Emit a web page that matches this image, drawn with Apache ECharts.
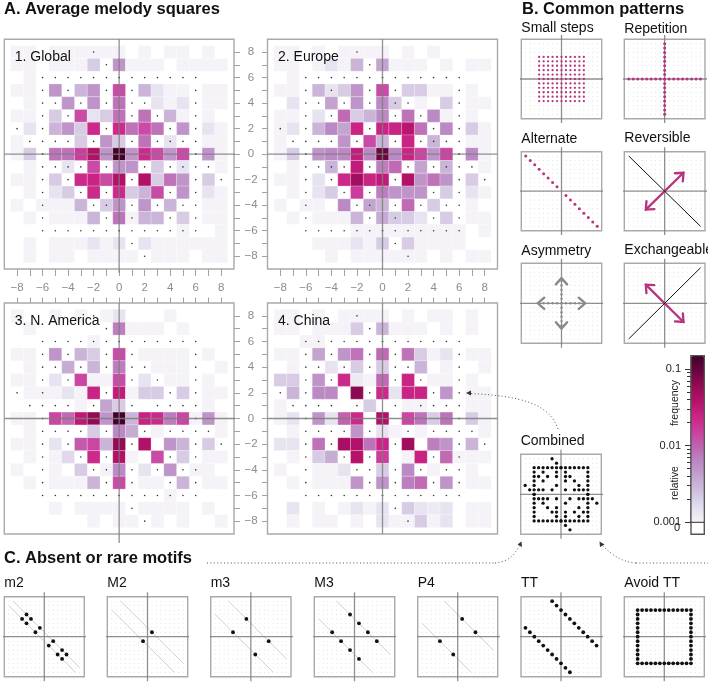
<!DOCTYPE html>
<html>
<head>
<meta charset="utf-8">
<style>html,body{margin:0;padding:0;background:#fff}#c{width:708px;height:682px}</style>
<script src="https://cdn.jsdelivr.net/npm/echarts@6/dist/echarts.min.js"></script>
</head>
<body>
<div id="c"></div>
<script>
// Relative frequency in thousandths; rows run from y=8 down to y=-8, columns x=-8..8.
const globalRows = [
[1,1,0,1,1,1,1,1,1,0,1,0,1,1,0,1,0],
[1,1,0,1,1,1,2.1,0,5,1,1,1,0,1,1,1,1],
[0,1,0,0,0,0,0,0,0,0,0,0,0,0,0,0,0],
[1,1,0,5,0,3,5,0,13,0,3,1.4,1,1,0,1,1],
[0,1,0,0,5,0,5,0,8,0,0,1.4,1,1.4,0,1,1],
[1,1,0,2.1,0,13,1.4,2.1,8,0,8,0,3,1,0,1,0],
[0,1.4,0,3,5,2.1,22,0,22,8,13,8,0,5,0,1.4,1],
[1,0,0,0,0,2.1,0,5,2.1,0,8,0,1.4,0,0,1,1],
[1,2.1,0,8,8,16,40,5,140,5,22,13,5,13,0,5,1],
[0,1,0,0,1.4,0,13,0,5,5,0,2.1,0,1.4,0,0,1],
[1,1,0,2.1,0,22,25,13,40,0,40,2.1,8,5,0,2.1,0],
[0,1,0,1.4,2.1,0,22,0,22,2.1,3,13,0,5,0,1.4,1],
[1,0,1,1,1,3,0,2.1,5,0,5,0,3,0,0,1,1],
[0,1,0,1,1,1,3,0,8,1,3,3,0,2.1,0,1,1],
[0,0,0,0,0,0,0,0,0,0,0,0,0,1,0,0,1],
[0,1,0,1,1,1,1.4,1,1.4,0,1.4,1,1,1,1,1,1],
[0,1,0,1,1,0,1,1,1,1,0,1,1,1,0,1,1]];
const europeRows = [
[1,1,0,1,0,1,1,1,1,0,1,0,1,0,0,0,0],
[1,1,0,1,1.4,1,3,0,4,1,1,1,0,1,0,1,1],
[0,1,0,0,0,0,0,0,0,0,0,0,0,0,0,0,0],
[1,1,0,3,1.4,2.1,5,0,13,0,2.1,2.1,1,1,0,1,0],
[0,1.4,0,0,4,0,5,0,6,2.1,0,1,0,2.1,0,1,1],
[1,1,0,1.4,0,9,2.1,3,6,0,8,0,6,1,0,1,0],
[1,1.4,0,3,6,4,25,0,25,25,35,8,0,6,0,2.1,1],
[1,0,0,0,0,5,0,13,3,0,25,0,3,0,0,1,1],
[1,2.1,0,5,6,6,28,6,90,6,25,14,5,14,0,6,1],
[0,1,0,0,3,0,30,0,7,9,0,4,0,3,0,0,1],
[1,1,0,1.4,0,22,48,25,30,0,40,5,8,5,0,2.1,0],
[0,1,0,1.4,2.1,0,16,0,7,5,5,5,0,2.1,0,1.4,1],
[1,0,1,1,0,6,0,4,3,0,9,0,2.1,0,0,1,0],
[0,1,0,1,1,1,3,0,3.5,2.1,2.1,1.4,0,2.1,0,1,1],
[0,0,0,0,0,0,1,1,1,1,1,1,1,1,1,0,1],
[0,0,0,1,1,1,1.4,1,2.1,0,2.1,1,1,1,1,0,0],
[0,0,0,0,1,0,1,1,1,1,1,1,0,1,0,1,1]];
const americaRows = [
[1,0,0,1,0,1,0,1,1.4,0,0,0,1,0,0,0,0],
[0,1,0,0,0,0,0,0,7,1,1,1,0,1,0,0,0],
[0,0,0,0,0,0,1,0,0,0,0,0,0,0,0,0,0],
[1,1,0,5,0,3,2.1,0,13,0,1,1,1,1,0,1,0],
[0,1,0,0,3.5,0,3,0,7,0,0,1,1,1,0,0,1],
[1,1,0,1.4,0,14,1,1,13,0,1.4,0,1,1,0,1,0],
[0,1,1,1,1.4,1,25,0,30,1,2.1,2.1,0,2.1,0,1,1],
[0,0,0,0,0,1,0,4,2.1,0,0,0,0,0,0,1,0],
[1,1,0,14,9,32,60,5,140,3,26,22,7,14,1,5,1],
[0,1,0,0,0,0,2.1,0,6,3.5,0,1,0,0,0,0,1],
[1,1,0,1.4,0,11,14,3,60,0,40,0,5,3,0,2.1,0],
[0,1,0,1,1.7,0,22,0,40,1,0,13,0,2.1,0,1,1],
[1,0,0,1,0,2.1,0,1,6,0,1.4,0,5,0,1,1,0],
[0,1,0,1,1,1,3,0,13,0,1,1,0,3,0,1,1],
[0,0,0,0,0,0,0,0,0,0,0,0,1,0,0,0,0],
[0,0,0,1,0,1,1,1,1,0,1,1,1,1,0,1,0],
[0,0,0,0,0,0,1,0,1,1,0,1,0,1,0,0,1]];
const chinaRows = [
[1,1,0,1,0,1,1,1,1,0,1,0,1,1,0,1,0],
[1,1,0,1,1,1,2.1,0,3,1,1,1,0,1,0,1,0],
[0,0,1,1,0,0,0,0,0,0,0,0,0,0,0,0,0],
[1,1,0,4,0,5,8,0,9,0,8,2.1,1,1.4,0,1,1],
[0,1,0,0,1.4,0,2.1,0,2.1,0,0,3,0,1,0,0,1],
[2.1,2.1,0,5,0,22,1.2,1,9,0,25,0,1,1,0,1,0],
[0,3,0,6,6,0,65,0,22,1.4,25,25,0,5,0,1,1],
[1,0,0,0,0,0,0,2.1,0,0,1,1,0,0,0,1,1],
[1,1.4,0,5,1.4,10,22,0,40,0,14,8,2.1,8,0,2.1,1],
[0,1,0,0,0,0,5,0,1.4,1,0,1,0,0,0,0,1],
[1.4,1.4,0,8,0,45,40,8,24,0,50,0,7,5,0,3,0],
[0,1,0,2.1,3.5,0,38,0,16,0,1,26,0,9,1,1,1],
[1,0,0,1,1,1.4,0,0,2.1,0,6,0,1,0,0,1,0],
[0,1,0,1,1,1,5,0,5,0,7,9,0,5,0,1,1],
[0,0,0,0,0,0,0,0,0,0,0,0,0,0,0,0,0],
[0,1.4,0,1,0,1,1.4,1,1.4,0,2.1,1.4,1.2,1.4,0,1,1],
[0,1,0,1,1,0,1,0,1.4,1,1,2.1,1,1.4,0,1,1]];

const tickNotes = [-8,-7,-6,-5,-4,-3,-2,-1,0,1,2,3,4,5,6,7,8];
const labelNotes = [-8,-6,-4,-2,0,2,4,6,8];

// Absent or rare motifs as [first interval, second interval].
const m2Points = [[-4,5],[-5,4],[-3,4],[-4,3],[-1,2],[-2,1],[2,-1],[1,-2],[4,-3],[3,-4],[5,-4],[4,-5]];
const M2Points = [[1,1],[-1,-1]];
const m3Points = [[-1,4],[-4,1],[4,-1],[1,-4]];
const M3Points = [[-1,5],[1,3],[3,1],[5,-1],[-5,1],[-3,-1],[-1,-3],[1,-5]];
const P4Points = [[1,4],[4,1],[-4,-1],[-1,-4]];
const TTPoints = [[-2,8],[-1,7],[0,6],[1,5],[2,4],[3,3],[4,2],[5,1],[6,0],[7,-1],[8,-2],
  [-8,2],[-7,1],[-6,0],[-5,-1],[-4,-2],[-3,-3],[-2,-4],[-1,-5],[0,-6],[1,-7],[2,-8]];
const avoidTTPoints = [
  [-6,6],[-5,6],[-4,6],[-3,6],[-2,6],[-1,6],[0,6],[1,6],[2,6],[3,6],[4,6],[5,6],[6,6],
  [-6,5],[6,5],[-6,4],[6,4],[-6,3],[6,3],[-6,2],[6,2],[-6,1],[6,1],[-6,0],[6,0],
  [-6,-1],[6,-1],[-6,-2],[6,-2],[-6,-3],[6,-3],[-6,-4],[6,-4],[-6,-5],[6,-5],
  [-6,-6],[-5,-6],[-4,-6],[-3,-6],[-2,-6],[-1,-6],[0,-6],[1,-6],[2,-6],[3,-6],[4,-6],[5,-6],[6,-6]];
const combinedPoints = [].concat(m2Points,M2Points,m3Points,M3Points,P4Points,TTPoints,avoidTTPoints);

const smallStepNotes = [-5,-4,-3,-2,-1,0,1,2,3,4,5];
const alternatePoints = [[-8,8],[-7,7],[-6,6],[-5,5],[-4,4],[-3,3],[-2,2],[-1,1],[1,-1],[2,-2],[3,-3],[4,-4],[5,-5],[6,-6],[7,-7],[8,-8]];

const colorbarMajor = [0.001,0.01,0.1];
const colorbarMinor = [0.002,0.003,0.004,0.005,0.006,0.007,0.008,0.009,0.02,0.03,0.04,0.05,0.06,0.07,0.08,0.09];
const colorbarTop = 0.149;
const ramp = ['#f5f2f8','#e4deee','#cfc1de','#c3a5d0','#bb88c3','#c064b0','#cc3f9f','#cb2486','#b5126a','#930b54','#6a053e','#3e0028'];

const PINK='#b8327c', GREY='#8a8a8a', AXIS='rgba(125,125,125,0.85)', FRAME='#a9a9a9';
const FONT='"Liberation Sans", Arial, sans-serif';
const opt={animation:false,backgroundColor:'#fff',grid:[],xAxis:[],yAxis:[],series:[],graphic:{elements:[]},
  textStyle:{fontFamily:FONT}};
const heatIdx=[];
const lattice=[];tickNotes.forEach(x=>tickNotes.forEach(y=>lattice.push([x,y])));

function text(t,x,y,size,o){o=o||{};
  opt.graphic.elements.push({type:'text',x:x,y:y,rotation:o.rot||0,z:50,silent:true,
    style:{text:t,font:(o.bold?'bold ':'')+size+'px '+FONT,fill:o.fill||'#111',align:o.align||'left',verticalAlign:'middle'}});
}
function addGrid(rect,xAx,yAx,o){o=o||{};
  const i=opt.grid.length;
  opt.grid.push({left:rect[0],top:rect[1],width:rect[2]-rect[0],height:rect[3]-rect[1],show:true,
    borderColor:o.border||FRAME,borderWidth:1.4,backgroundColor:'#fff',z:0});
  opt.xAxis.push(Object.assign({gridIndex:i,type:'value',min:-9,max:9,show:false,splitLine:{show:false}},xAx||{}));
  opt.yAxis.push(Object.assign({gridIndex:i,type:'value',min:-9,max:9,show:false,splitLine:{show:false}},yAx||{}));
  return i;
}
function lineS(i,a,b,color,w,z){
  opt.series.push({type:'line',xAxisIndex:i,yAxisIndex:i,data:[a,b],showSymbol:false,symbol:'none',clip:false,silent:true,
    lineStyle:{color:color,width:w},z:z||3});
}
function cross(i,xr,yr){lineS(i,[xr[0],0],[xr[1],0],AXIS,1.3,4);lineS(i,[0,yr[0]],[0,yr[1]],AXIS,1.3,4);}
function dots(i,pts,size,color,z){
  opt.series.push({type:'scatter',xAxisIndex:i,yAxisIndex:i,data:pts,symbolSize:size,clip:false,silent:true,
    itemStyle:{color:color,opacity:1},z:z||3});
}
function axisCfg(pos,showLabels,len){
  return {show:true,position:pos,axisLine:{show:false,onZero:false},
    axisTick:{show:true,length:len,customValues:tickNotes,lineStyle:{color:'#a2a2a2',width:1}},
    axisLabel:{show:showLabels,customValues:labelNotes,color:'#8c8c8c',fontSize:11.5,fontFamily:FONT,
      margin:pos==='bottom'?13:17,align:'center',width:20,overflow:'none',
      formatter:v=>String(v).replace('-','\u2212')}};
}
function heatPanel(name,rows,rect,xAx,yAx,crossY){
  const i=addGrid(rect,xAx,yAx);
  const data=[];
  rows.forEach((r,ri)=>r.forEach((v,ci)=>{ if(v>0) data.push([tickNotes[ci],tickNotes[16-ri],Math.log10(v/1000)]); }));
  heatIdx.push(opt.series.length);
  opt.series.push({type:'custom',xAxisIndex:i,yAxisIndex:i,data:data,silent:true,encode:{x:0,y:1},z:2,
    renderItem:function(p,api){
      const a=api.coord([api.value(0)-0.5,api.value(1)+0.5]),b=api.coord([api.value(0)+0.5,api.value(1)-0.5]);
      return {type:'rect',shape:{x:a[0],y:a[1],width:b[0]-a[0],height:b[1]-a[1]},
        style:{fill:api.visual('color'),stroke:'rgba(255,255,255,0.45)',lineWidth:0.5}};
    }});
  dots(i,combinedPoints,1.6,'#333',3);
  cross(i,[-9,yAx.position==='right'?9.5:9],crossY);
  text(name,rect[0]+10.5,rect[1]+18,14);
}
function arrowSeries(i,items,color,width,z){
  opt.series.push({type:'custom',xAxisIndex:i,yAxisIndex:i,data:items,silent:true,clip:false,z:z||5,
    renderItem:function(p,api){
      const a=api.coord([api.value(0),api.value(1)]),b=api.coord([api.value(2),api.value(3)]);
      const shaft=api.value(4)===1;
      const dx=b[0]-a[0],dy=b[1]-a[1],ang=Math.atan2(dy,dx),L=8.5,S=0.72;
      const head=(t,an)=>[[t[0]-L*Math.cos(an-S),t[1]-L*Math.sin(an-S)],t,[t[0]-L*Math.cos(an+S),t[1]-L*Math.sin(an+S)]];
      const st={stroke:color,lineWidth:width,fill:null,lineCap:'round',lineJoin:'miter'};
      const ch=[{type:'polyline',shape:{points:head(b,ang)},style:st}];
      if(shaft){
        ch.push({type:'polyline',shape:{points:[a,b]},style:st});
        ch.push({type:'polyline',shape:{points:head(a,ang+Math.PI)},style:st});
      }
      return {type:'group',children:ch};
    }});
}
function miniPanel(name,rect,labelY,extra){
  const i=addGrid(rect);
  dots(i,lattice,0.9,'#c0c0c0',1);
  cross(i,[-10,10],[-10,10]);
  text(name,rect[0],labelY,14);
  if(extra) extra(i);
  return i;
}
function motif(name,rect,points,offset){
  miniPanel(name,rect,582.7,i=>{
    if(offset){
      lineS(i,[offset-8,8],[8,offset-8],'#c9c9c9',0.9,3);
      lineS(i,[-8,8-offset],[8-offset,-8],'#c9c9c9',0.9,3);
    }
    dots(i,points,3.8,'#111',6);
  });
}

// A. Average melody squares
const xBottom=axisCfg('bottom',true,7), xTop=axisCfg('top',false,5.5);
const yRight=axisCfg('right',true,6), yLeft=axisCfg('left',false,5.5);
heatPanel('1. Global',globalRows,[4.3,39.3,234,269],xBottom,yRight,[-9.3,9]);
heatPanel('2. Europe',europeRows,[267.5,39.3,497.5,269],xBottom,yLeft,[-9,9]);
heatPanel('3. N. America',americaRows,[4.3,303,234,534],xTop,yRight,[-9.7,9]);
heatPanel('4. China',chinaRows,[267.5,303,497.5,534],xTop,yLeft,[-9,9]);

// B. Common patterns
const smallSteps=[];smallStepNotes.forEach(x=>smallStepNotes.forEach(y=>smallSteps.push([x,y])));
const repetition=tickNotes.map(n=>[n,0]).concat(tickNotes.map(n=>[0,n]));
const asym=smallStepNotes.map(n=>[n,0]).concat(smallStepNotes.map(n=>[0,n]));
miniPanel('Small steps',[521.3,39.3,601.7,118.7],28,i=>dots(i,smallSteps,2.3,PINK,6));
miniPanel('Repetition',[624.3,39.3,705,118.7],29,i=>dots(i,repetition,3,PINK,6));
miniPanel('Alternate',[521.3,151.7,601.7,230.7],139.5,i=>dots(i,alternatePoints,3,PINK,6));
miniPanel('Reversible',[624.3,151.7,705,230.7],138.5,i=>{
  lineS(i,[-8,8],[8,-8],'#111',1,5);
  arrowSeries(i,[[-4.2,-4.2,4.2,4.2,1]],PINK,2.3);
});
miniPanel('Asymmetry',[521.3,263.3,601.7,343.3],251,i=>{
  dots(i,asym,2.4,GREY,6);
  arrowSeries(i,[[0,0,5.3,0,0],[0,0,-5.3,0,0],[0,0,0,5.7,0],[0,0,0,-5.7,0]],GREY,2.4);
});
miniPanel('Exchangeable',[624.3,263.3,705,343.3],250,i=>{
  lineS(i,[-8,-8],[8,8],'#111',1,5);
  arrowSeries(i,[[-4.2,4.2,4.2,-4.2,1]],PINK,2.3);
});
miniPanel('Combined',[520.7,454.3,601.3,534.3],441,i=>dots(i,combinedPoints,3.3,'#111',6));

// C. Absent or rare motifs
motif('m2',[4.3,596.7,84.3,676.7],m2Points,1);
motif('M2',[107.3,596.7,187.7,676.7],M2Points,2);
motif('m3',[210.7,596.7,291,676.7],m3Points,3);
motif('M3',[314.3,596.7,394.7,676.7],M3Points,4);
motif('P4',[417.7,596.7,497.7,676.7],P4Points,5);
motif('TT',[521,596.7,601,676.7],TTPoints,0);
motif('Avoid TT',[624.3,596.7,704.3,676.7],avoidTTPoints,0);

// Colour bar: visualMap draws the ramp, a grid over it carries the log scale.
const barLeft=691,barRight=704.3,barBottom=522.3,barTop=355.7;
const logTop=Math.log10(colorbarTop);
opt.visualMap={type:'continuous',min:-3,max:logTop,dimension:2,seriesIndex:heatIdx,show:true,calculable:false,
  left:barLeft,top:barTop,itemWidth:barRight-barLeft,itemHeight:barBottom-barTop,padding:0,showLabel:false,text:null,
  hoverLink:false,realtime:false,inRange:{color:ramp},z:5};
const cb=addGrid([barLeft,barTop,barRight,barBottom],{min:0,max:1},
  {show:true,position:'left',min:-3,max:logTop,axisLine:{show:false,onZero:false},
   axisTick:{show:true,length:6,customValues:colorbarMajor.map(Math.log10),lineStyle:{color:'#333',width:1}},
   axisLabel:{show:true,customValues:colorbarMajor.map(Math.log10),margin:10,color:'#222',fontSize:11,fontFamily:FONT,
     formatter:v=>String(+Math.pow(10,v).toPrecision(1))}},{border:'#555'});
opt.grid[cb].backgroundColor='transparent';
opt.yAxis.push({gridIndex:cb,type:'value',position:'left',min:-3,max:logTop,show:true,
  axisLine:{show:false,onZero:false},splitLine:{show:false},axisLabel:{show:false},
  axisTick:{show:true,length:4,customValues:colorbarMinor.map(Math.log10),lineStyle:{color:'#333',width:1}}});
const zeroBox=opt.grid.length;
opt.grid.push({left:barLeft,top:barBottom,width:barRight-barLeft,height:12,show:true,borderColor:'#555',borderWidth:1.4,backgroundColor:'#fff'});
opt.xAxis.push({gridIndex:zeroBox,type:'value',min:0,max:1,show:false});
opt.yAxis.push({gridIndex:zeroBox,type:'category',data:['0'],position:'left',axisLine:{show:false},axisTick:{show:false},
  axisLabel:{color:'#222',fontSize:11,fontFamily:FONT,margin:11,padding:[5,0,0,0]}});
opt.graphic.elements.push({type:'rect',z:60,silent:true,shape:{x:barLeft,y:barTop,width:barRight-barLeft,height:barBottom-barTop},
  style:{fill:'none',stroke:'#555',lineWidth:1.2}});
text('frequency',675.5,403,10.5,{rot:Math.PI/2,align:'center',fill:'#222'});
text('relative',675.5,483,10.5,{rot:Math.PI/2,align:'center',fill:'#222'});

// Headings
text('A. Average melody squares',4,9,16.5,{bold:true});
text('B. Common patterns',522,9,16.5,{bold:true});
text('C. Absent or rare motifs',4,558,16.5,{bold:true});

// Dotted annotation curves
function dotted(shapeType,shape){
  opt.graphic.elements.push({type:shapeType,z:40,silent:true,shape:shape,
    style:{stroke:'#555',lineWidth:1,lineDash:[1,2.4],fill:'none'}});
}
function head(p){
  opt.graphic.elements.push({type:'polygon',z:41,silent:true,shape:{points:p},style:{fill:'#333'}});
}
dotted('bezierCurve',{x1:558,y1:429,cpx1:549,cpy1:403,cpx2:520,cpy2:396,x2:470,y2:393.5});
head([[466,393],[471,390.5],[471,395.5]]);
dotted('line',{x1:207,y1:563,x2:495,y2:563});
dotted('bezierCurve',{x1:495,y1:563,cpx1:510,cpy1:562,cpx2:516,cpy2:552,x2:520,y2:545});
head([[521.5,541.5],[522,547],[517.5,544.5]]);
dotted('line',{x1:636,y1:563,x2:708,y2:563});
dotted('bezierCurve',{x1:636,y1:563,cpx1:620,cpy1:562,cpx2:610,cpy2:553,x2:602,y2:545});
head([[599.5,541.5],[604.5,544.5],[600,547]]);

const chart=echarts.init(document.getElementById('c'),null,{renderer:'canvas',width:708,height:682});
chart.setOption(opt);
</script>
</body>
</html>
